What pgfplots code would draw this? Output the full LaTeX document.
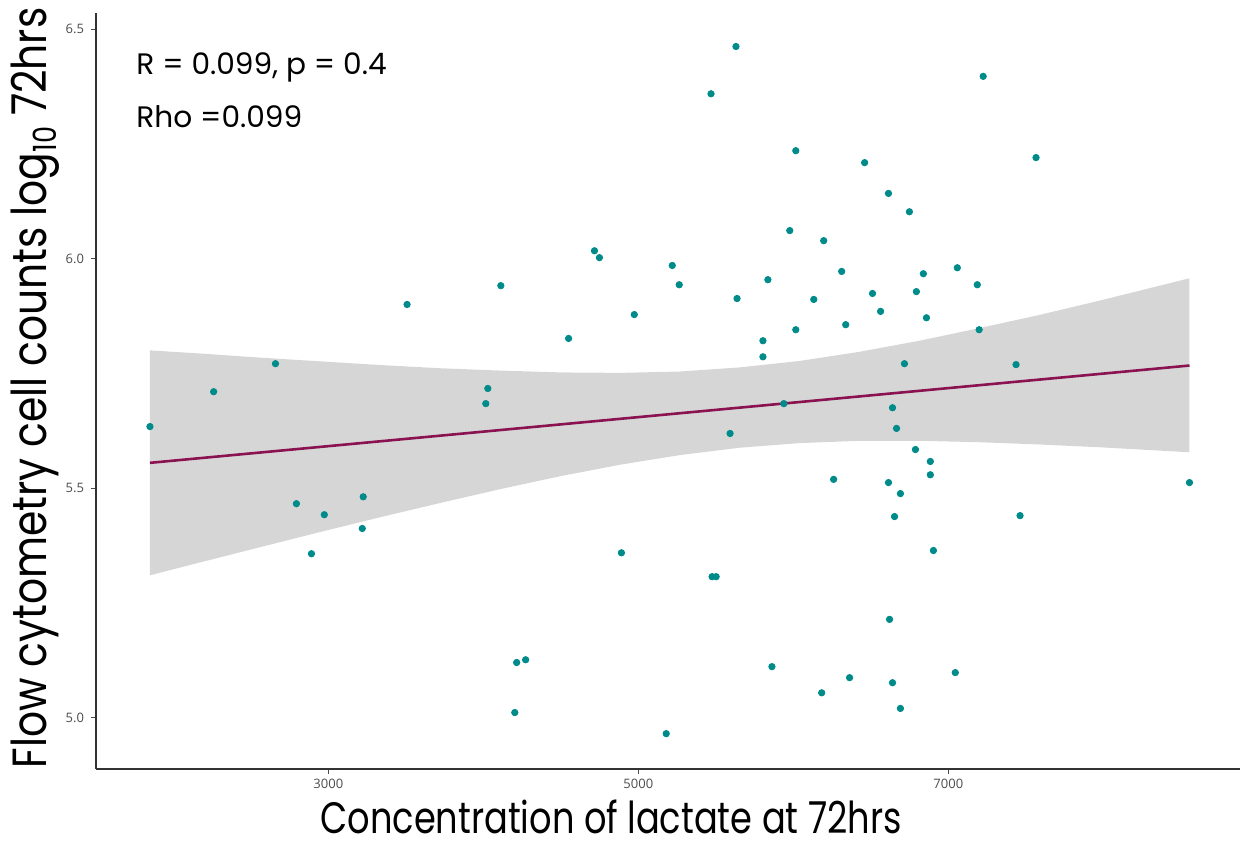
\documentclass[border=0pt]{standalone}
\usepackage{fontspec}
\setmainfont{Poppins}
\newfontfamily\tickfont{Open Sans}
\usepackage{graphicx}
\usepackage{pgfplots}
\usepackage{pgfplotstable}
\pgfplotsset{compat=1.18}
\usetikzlibrary{calc}
\definecolor{ptc}{RGB}{0,139,139}
\definecolor{lnc}{RGB}{139,18,80}

\pgfplotstableread{
x y
1849 5.634
2260 5.710
2659 5.771
2794 5.466
2891 5.357
2974 5.442
3225 5.481
3219 5.412
3508 5.900
4016 5.684
4029 5.717
4113 5.941
4550 5.826
4203 5.011
4215 5.120
4273 5.126
4717 6.017
4749 6.002
4891 5.359
4974 5.878
5219 5.985
5264 5.943
5180 4.965
5469 6.359
5630 6.462
5476 5.307
5502 5.307
5592 5.619
5637 5.913
5804 5.821
5804 5.786
5836 5.954
5862 5.111
5939 5.684
5977 6.061
6016 6.235
6016 5.845
6132 5.911
6196 6.039
6183 5.054
6260 5.519
6312 5.972
6338 5.856
6363 5.087
6460 6.209
6511 5.924
6563 5.885
6614 6.142
6614 5.512
6640 5.675
6653 5.438
6666 5.630
6621 5.214
6640 5.076
6691 5.488
6691 5.020
6717 5.771
6749 6.102
6788 5.584
6794 5.928
6839 5.967
6859 5.871
6884 5.558
6884 5.529
6904 5.364
7045 5.098
7058 5.980
7187 5.943
7199 5.845
7225 6.397
7437 5.769
7463 5.440
7566 6.220
8556 5.512
}\pts

\begin{document}
\begin{tikzpicture}
\begin{axis}[
  scale only axis, width=572pt, height=378pt,
  xmin=1501, xmax=8882, ymin=4.888, ymax=6.535,
  axis x line*=bottom, axis y line*=left,
  axis line style={line width=0.7pt, color=black!80, -},
  xtick={3000,5000,7000}, xticklabels={3000,5000,7000},
  ytick={5.0,5.5,6.0,6.5}, yticklabels={5.0,5.5,6.0,6.5},
  tick align=outside, major tick length=2.5pt,
  tick style={black!70, line width=0.5pt},
  ticklabel style={font=\tickfont\fontsize{6.5}{7}\selectfont, text=black!70},
  xticklabel style={yshift=1pt},
]
\addplot[only marks, mark=*, mark size=1.6pt, mark options={fill=ptc, draw=ptc}] table[x=x,y=y] {\pts};
\addplot[draw=none, fill=black!40, fill opacity=0.4] coordinates {
(1849,5.800) (2183,5.793) (2569,5.784) (2955,5.776) (3341,5.768) (3727,5.761) (4113,5.756) (4498,5.752) (4884,5.751) (5270,5.754) (5656,5.763) (6042,5.777) (6428,5.797) (6814,5.821) (7193,5.848) (7585,5.877) (7971,5.908) (8293,5.935) (8556,5.957)
(8556,5.578) (8293,5.583) (7971,5.589) (7585,5.595) (7193,5.600) (6814,5.603) (6428,5.603) (6042,5.598) (5656,5.588) (5270,5.572) (4884,5.551) (4498,5.526) (4113,5.498) (3727,5.468) (3341,5.437) (2955,5.405) (2569,5.372) (2183,5.339) (1849,5.310)
} -- cycle;
\addplot[lnc, line width=1.3pt] coordinates {(1849,5.555) (8556,5.767)};
\end{axis}
\node[anchor=base, inner sep=0pt, font=\fontsize{22}{24}\selectfont] at (257.5pt,-32.3pt) {\scalebox{0.8}[1]{Concentration of lactate at 72hrs}};
\node[anchor=base, inner sep=0pt, rotate=90, font=\fontsize{24}{26}\selectfont] at (-24.5pt,190.5pt) {\scalebox{0.85}[1]{Flow cytometry cell counts log\raisebox{-0.35ex}{\fontsize{16}{16}\selectfont 10} 72hrs}};
\node[anchor=base west, inner sep=0pt, font=\fontsize{14.8}{16}\selectfont] at (20pt,347.5pt) {R = 0.099, p = 0.4};
\node[anchor=base west, inner sep=0pt, font=\fontsize{14.8}{16}\selectfont] at (20pt,321pt) {Rho =0.099};
\pgfresetboundingbox
\path (-48pt,-37pt) rectangle (573pt,384.5pt);
\end{tikzpicture}
\end{document}
